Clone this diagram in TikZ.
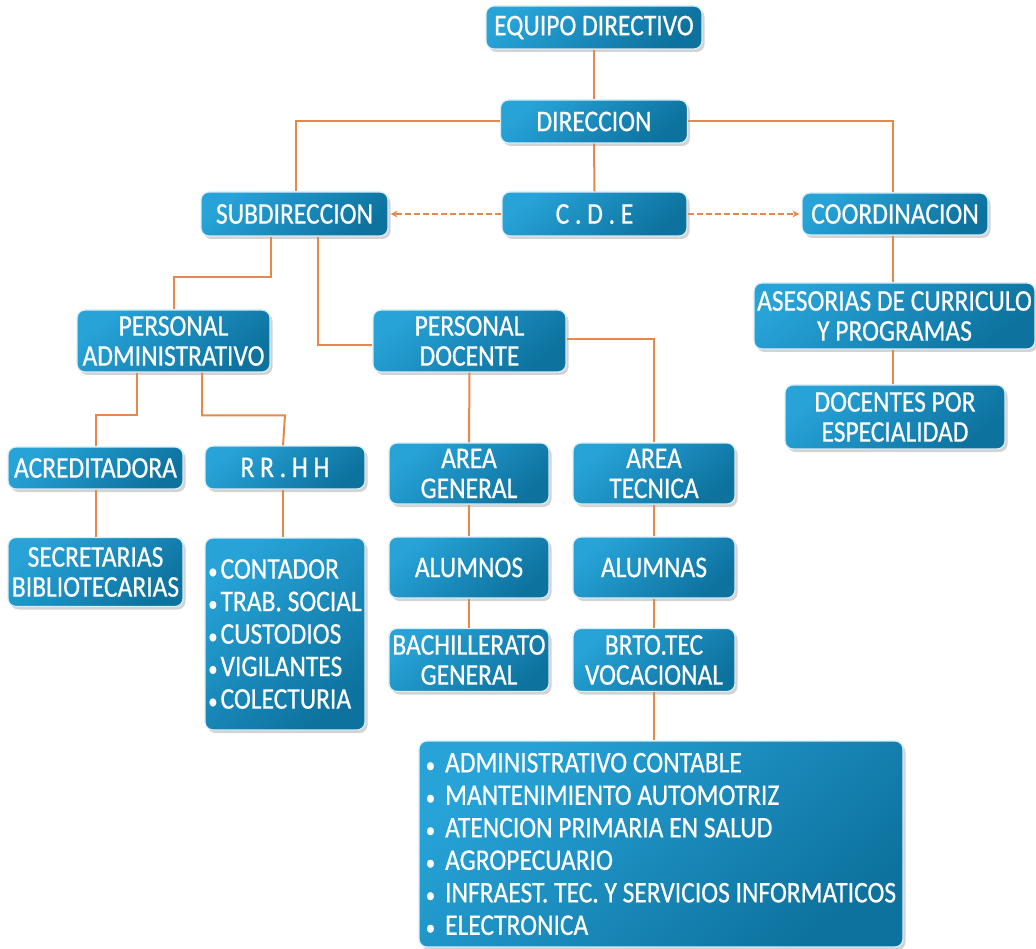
\documentclass[tikz,border=0pt]{standalone}
\usepackage{fontspec}
\newfontfamily\boxfont{Carlito}[FakeStretch=0.85,FakeBold=0.6]
\usetikzlibrary{shadows,arrows.meta,calc}
\definecolor{boxA}{HTML}{27A3D8}
\definecolor{boxM}{HTML}{1990C5}
\definecolor{boxB}{HTML}{0D729E}
\definecolor{edgec}{HTML}{D9EEF7}
\definecolor{linkc}{HTML}{E8874A}
\tikzset{
  box/.style={rounded corners=8pt, draw=edgec, line width=1.2pt,
    top color=boxA, middle color=boxM, bottom color=boxB, shading angle=40,
    text=white, font=\boxfont\fontsize{30}{30}\selectfont,
    align=center, inner sep=0pt,
    drop shadow={shadow xshift=2.5pt, shadow yshift=-3pt, opacity=0.35}},
  listbox/.style={box, align=left, font=\boxfont\fontsize{30}{32.5}\selectfont},
  link/.style={draw=linkc, line width=2pt},
  dlink/.style={link, line width=1.7pt, dash pattern=on 6pt off 3pt, -{Stealth[length=7pt,width=7pt]}, shorten >=2pt},
}
\newcommand{\bul}{{\fontsize{22}{30}\selectfont•}}
\begin{document}
\begin{tikzpicture}[x=1pt,y=-1pt]
\useasboundingbox (0,0) rectangle (1036,949);
\node[box, minimum width=216, minimum height=43] (eq) at (594,27.5) {EQUIPO DIRECTIVO};
\node[box, minimum width=187, minimum height=43] (dir) at (594,121.5) {DIRECCION};
\node[box, minimum width=187, minimum height=44] (sub) at (294.5,214) {SUBDIRECCION};
\node[box, minimum width=185, minimum height=44] (cde) at (594.5,214) {C . D . E};
\node[box, minimum width=186, minimum height=42] (coord) at (895,214) {COORDINACION};
\node[box, minimum width=193, minimum height=62] (padm) at (173.5,341) {PERSONAL\\ADMINISTRATIVO};
\node[box, minimum width=193, minimum height=62] (pdoc) at (469.5,341) {PERSONAL\\DOCENTE};
\node[box, minimum width=281, minimum height=66] (ases) at (894.5,316) {ASESORIAS DE CURRICULO\\Y PROGRAMAS};
\node[box, minimum width=220, minimum height=64] (doce) at (895,417) {DOCENTES POR\\ESPECIALIDAD};
\node[box, minimum width=175, minimum height=42] (acre) at (95.5,468) {ACREDITADORA};
\node[box, minimum width=160, minimum height=43] (rrhh) at (285,467.5) {R R . H H};
\node[box, minimum width=160, minimum height=61] (agen) at (469,473.5) {AREA\\GENERAL};
\node[box, minimum width=162, minimum height=61] (atec) at (654,473.5) {AREA\\TECNICA};
\node[box, minimum width=175, minimum height=69] (secr) at (95.5,572) {SECRETARIAS\\BIBLIOTECARIAS};
\node[listbox, minimum width=160, minimum height=192] (cont) at (285,634) {\bul\hspace{3pt}CONTADOR\\\bul\hspace{3pt}TRAB. SOCIAL\\\bul\hspace{3pt}CUSTODIOS\\\bul\hspace{3pt}VIGILANTES\\\bul\hspace{3pt}COLECTURIA};
\node[box, minimum width=160, minimum height=61] (alos) at (469,567.5) {ALUMNOS};
\node[box, minimum width=162, minimum height=61] (alas) at (654,567.5) {ALUMNAS};
\node[box, minimum width=160, minimum height=63] (bach) at (469,660) {BACHILLERATO\\GENERAL};
\node[box, minimum width=162, minimum height=63] (brto) at (654,660) {BRTO.TEC\\VOCACIONAL};
\node[listbox, minimum width=484, minimum height=206] (lst) at (661,844) {\bul\hspace{10pt}ADMINISTRATIVO CONTABLE\\\bul\hspace{10pt}MANTENIMIENTO AUTOMOTRIZ\\\bul\hspace{10pt}ATENCION PRIMARIA EN SALUD\\\bul\hspace{10pt}AGROPECUARIO\\\bul\hspace{10pt}INFRAEST. TEC. Y SERVICIOS INFORMATICOS\\\bul\hspace{10pt}ELECTRONICA};
% connectors
\draw[link] (eq.south) -- (dir.north);
\draw[link] (dir.west) -| ([xshift=1.5pt]sub.north);
\draw[link] (dir.east) -| ([xshift=-2pt]coord.north);
\draw[link] (dir.south) -- (cde.north);
\draw[dlink] (cde.west) -- (sub.east);
\draw[dlink] (cde.east) -- (coord.west);
\draw[link] ([xshift=-2pt]coord.south) -- ([xshift=-1.5pt]ases.north);
\draw[link] ([xshift=-1.5pt]ases.south) -- ([xshift=-2pt]doce.north);
\draw[link] ([xshift=-23.5pt]sub.south) |- ($(padm.north)+(0,-32)$) -- (padm.north);
\draw[link] ([xshift=23.5pt]sub.south) |- ([yshift=-4pt]pdoc.west);
\draw[link] ([xshift=-36.5pt]padm.south) |- ($(acre.north)+(0,-31)$) -- (acre.north);
\draw[link] ([xshift=28.5pt]padm.south) |- ($(rrhh.north)+(0,-30)$) -- ([xshift=-2pt]rrhh.north);
\draw[link] (acre.south) -- (secr.north);
\draw[link] ([xshift=-2pt]rrhh.south) -- ([xshift=-2pt]cont.north);
\draw[link] (pdoc.south) -- (agen.north);
\draw[link] ([yshift=2pt]pdoc.east) -| (atec.north);
\draw[link] (agen.south) -- (alos.north);
\draw[link] (alos.south) -- (bach.north);
\draw[link] (atec.south) -- (alas.north);
\draw[link] (alas.south) -- (brto.north);
\draw[link] (brto.south) -- (brto.south |- lst.north);
\end{tikzpicture}
\end{document}
